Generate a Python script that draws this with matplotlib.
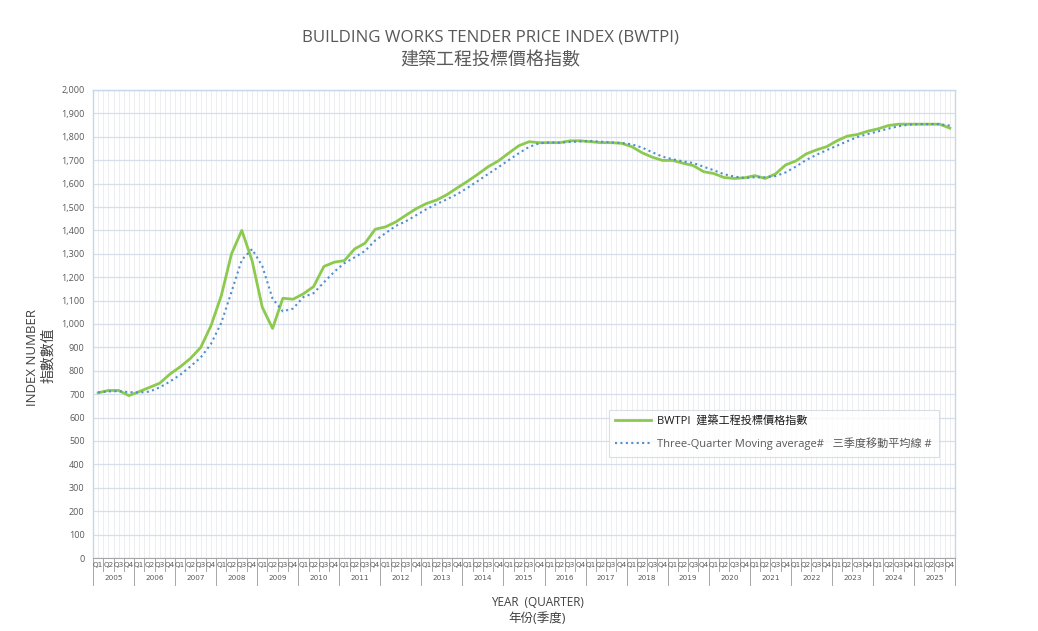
import numpy as np
import matplotlib
matplotlib.use("Agg")
import matplotlib.pyplot as plt
from matplotlib.ticker import FuncFormatter, MultipleLocator
import matplotlib.transforms as mtransforms

plt.rcParams['font.family'] = ['Open Sans', 'Noto Sans CJK TC', 'DejaVu Sans']

# data (2005 Q1 .. 2025 Q4)
years = list(range(2005, 2026))
quarters = ["Q1", "Q2", "Q3", "Q4"]

bwtpi = [706, 716, 716, 694, 711, 729, 747, 786, 817, 853,
         900, 993, 1121, 1300, 1400, 1271, 1071, 981, 1110, 1106,
         1129, 1160, 1246, 1264, 1271, 1321, 1345, 1405, 1415, 1436,
         1465, 1493, 1515, 1530, 1553, 1582, 1610, 1640, 1672, 1697,
         1730, 1762, 1779, 1775, 1775, 1775, 1783, 1783, 1779, 1775,
         1775, 1772, 1758, 1732, 1713, 1699, 1699, 1687, 1677, 1651,
         1643, 1626, 1622, 1625, 1634, 1622, 1641, 1680, 1697, 1727,
         1744, 1758, 1783, 1803, 1810, 1824, 1834, 1848, 1854, 1854,
         1854, 1854, 1854, 1837]

moving_avg = [708, 712, 713, 709, 707, 711, 729, 754, 783, 819,
              857, 915, 1005, 1138, 1274, 1320, 1247, 1108, 1054, 1066,
              1115, 1132, 1178, 1223, 1260, 1285, 1312, 1357, 1388, 1419,
              1439, 1465, 1491, 1513, 1533, 1555, 1582, 1611, 1641, 1670,
              1700, 1730, 1757, 1772, 1776, 1775, 1778, 1780, 1782, 1779,
              1776, 1774, 1768, 1754, 1734, 1715, 1704, 1695, 1688, 1672,
              1657, 1640, 1630, 1624, 1627, 1627, 1632, 1648, 1673, 1701,
              1723, 1743, 1762, 1781, 1799, 1812, 1823, 1835, 1845, 1852,
              1854, 1854, 1854, 1848]

green = '#8CC94F'
blue = '#4F8FCF'
grey_txt = '#595959'

fig = plt.figure(figsize=(10.38, 6.31), dpi=100)
ax = fig.add_axes([93 / 1038, 1 - 558 / 631, 862 / 1038, 468 / 631])

x = np.arange(len(bwtpi))
ax.plot(x, bwtpi, color=green, lw=2.0, solid_joinstyle='round',
        label='BWTPI  建築工程投標價格指數', zorder=3)
ax.plot(x, moving_avg, color=blue, lw=1.5, linestyle=(0, (1, 1.6)),
        label='Three-Quarter Moving average#   三季度移動平均線 #', zorder=3)

ax.set_xlim(-0.5, len(bwtpi) - 0.5)
ax.set_ylim(0, 2000)

# gridlines
ax.yaxis.set_major_locator(MultipleLocator(100))
ax.yaxis.set_major_formatter(FuncFormatter(lambda v, p: f"{int(v):,}"))
ax.grid(axis='y', color='#D5DEEA', lw=0.9)
for gx in np.arange(-0.5, len(bwtpi), 0.5):
    ax.axvline(gx, color='#ECEEF2', lw=0.7, zorder=0)
ax.set_axisbelow(True)

for side in ['left', 'top', 'right']:
    ax.spines[side].set_color('#C5D7E8')
    ax.spines[side].set_linewidth(1.0)
ax.spines['bottom'].set_color('#A6A6A6')
ax.spines['bottom'].set_linewidth(0.8)

ax.tick_params(axis='y', length=0, labelsize=6.5, labelcolor=grey_txt, pad=6)
ax.set_xticks([])

# two-level category axis: quarters then years
trans = mtransforms.blended_transform_factory(ax.transData, ax.transAxes)
for i in range(len(bwtpi)):
    ax.text(i, -0.015, quarters[i % 4], transform=trans, ha='center', va='center',
            fontsize=5.2, color=grey_txt, family='DejaVu Sans')
for b in np.arange(-0.5, len(bwtpi), 1.0):
    is_year = (b + 0.5) % 4 == 0
    ax.plot([b, b], [0, -0.058 if is_year else -0.028], transform=trans,
            color='#A6A6A6', lw=0.7, clip_on=False)
for k, yr in enumerate(years):
    ax.text(4 * k + 1.5, -0.043, str(yr), transform=trans, ha='center', va='center',
            fontsize=5.2, color=grey_txt, family='DejaVu Sans')

# titles
fig.text(491 / 1038, 1 - 37 / 631, 'BUILDING WORKS TENDER PRICE INDEX (BWTPI)',
         ha='center', va='center', fontsize=12.2, color=grey_txt)
fig.text(490 / 1038, 1 - 60 / 631, '建築工程投標價格指數',
         ha='center', va='center', fontsize=13, color=grey_txt, fontweight='light')

fig.text(33 / 1038, 1 - 357 / 631, 'INDEX NUMBER', rotation=90, ha='center', va='center',
         fontsize=9.5, color='#404040')
fig.text(49 / 1038, 1 - 355 / 631, '指數數值', rotation=90, ha='center', va='center',
         fontsize=10, color='#404040')

fig.text(537 / 1038, 1 - 603 / 631, 'YEAR  (QUARTER)', ha='center', va='center',
         fontsize=8.5, color='#404040')
fig.text(537 / 1038, 1 - 618 / 631, '年份(季度)', ha='center', va='center',
         fontsize=9, color='#404040')

leg = ax.legend(loc='upper left', bbox_to_anchor=((603 - 93) / 862, (558 - 404) / 468),
                frameon=True, fancybox=False, fontsize=8, handlelength=3.2,
                borderpad=0.6, labelspacing=0.9, handletextpad=0.6)
leg.get_frame().set_edgecolor('#D0D7E0')
leg.get_frame().set_linewidth(0.8)
leg.get_texts()[0].set_color('#1a1a1a')
leg.get_texts()[1].set_color(grey_txt)

fig.savefig('out.png', dpi=100)
